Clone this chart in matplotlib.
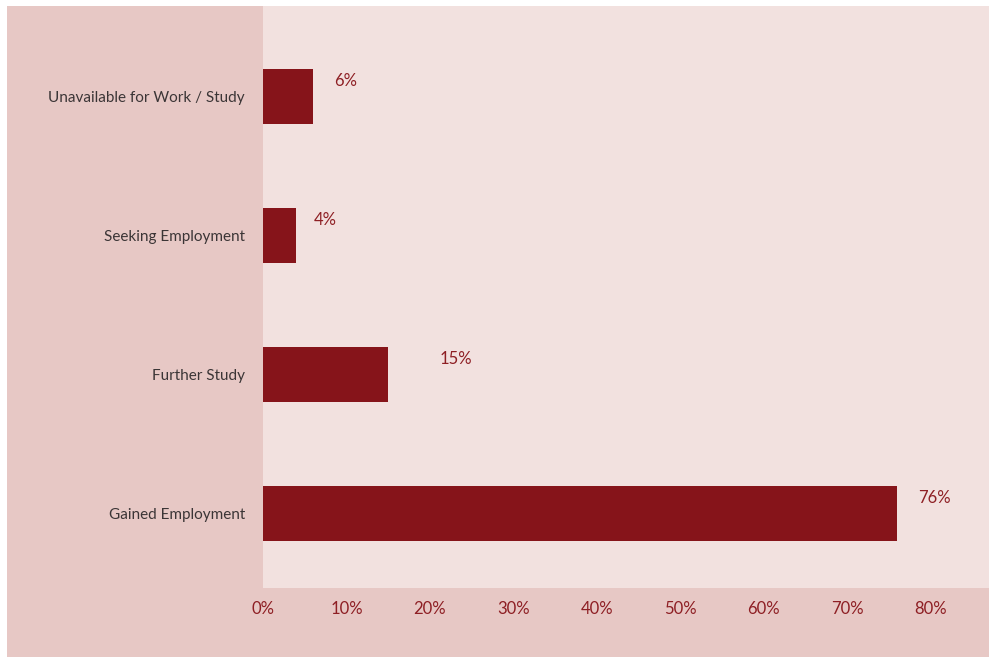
import matplotlib
matplotlib.use("Agg")
import matplotlib.pyplot as plt
from matplotlib.patches import Rectangle
from matplotlib.ticker import FuncFormatter
import matplotlib.transforms as mtransforms

# Graduate outcomes
categories = ["Gained Employment", "Further Study", "Seeking Employment",
              "Unavailable for Work / Study"]
shares = [76, 15, 4, 6]
tick_values = [0, 10, 20, 30, 40, 50, 60, 70, 80]
label_offsets_px = [21, 51, 17, 21]

BAR = "#86141a"
PANEL = "#e7c8c5"
PLOT_BG = "#f2e1df"
TEXT_RED = "#8e1f24"
TEXT_GREY = "#3b3536"

plt.rcParams["font.family"] = ["Lato", "DejaVu Sans"]

W, H = 989, 657
fig = plt.figure(figsize=(W / 100, H / 100), dpi=100, facecolor="white")

# darker backdrop behind labels and ticks
fig.patches.append(Rectangle((7 / W, 0), 1 - 7 / W, 1 - 6 / H,
                             transform=fig.transFigure, facecolor=PANEL,
                             edgecolor="none", zorder=-5))

ax = fig.add_axes([263 / W, (H - 588) / H, 1 - 263 / W, (588 - 6) / H])
ax.set_facecolor(PLOT_BG)

ypos = list(range(len(categories)))
ax.barh(ypos, shares, height=0.4, color=BAR, zorder=2)

for y, v, off in zip(ypos, shares, label_offsets_px):
    trans = ax.transData + mtransforms.ScaledTranslation(off / 100, 0, fig.dpi_scale_trans)
    ax.text(v, y + 0.11, f"{v}%", transform=trans, ha="left", va="center",
            color=TEXT_RED, fontsize=12)

ax.set_xlim(0, 87)
ax.set_ylim(-0.536, 3.65)
ax.set_yticks(ypos)
ax.set_yticklabels(categories)
ax.set_xticks(tick_values)
ax.xaxis.set_major_formatter(FuncFormatter(lambda x, p: f"{x:.0f}%"))

for s in ax.spines.values():
    s.set_visible(False)
ax.tick_params(axis="y", length=0, pad=13, labelsize=11, labelcolor=TEXT_GREY)
ax.tick_params(axis="x", length=0, pad=9, labelsize=12, labelcolor=TEXT_RED)

fig.savefig("out.png", dpi=100, facecolor="white")
